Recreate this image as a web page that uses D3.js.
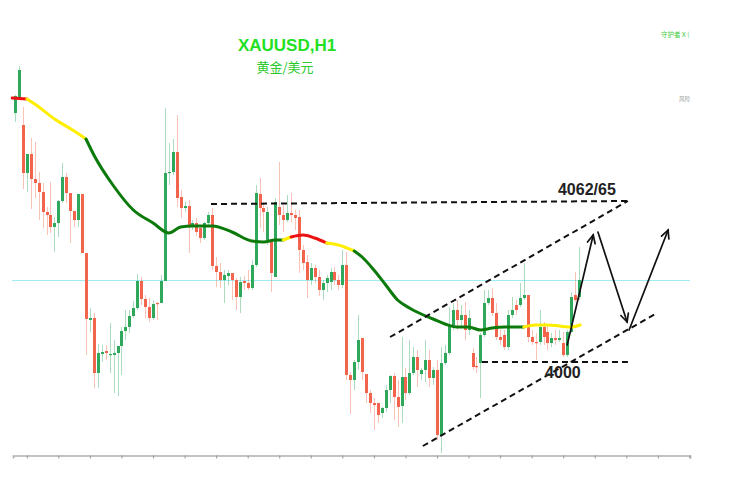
<!DOCTYPE html>
<html>
<head>
<meta charset="utf-8">
<script src="https://cdn.jsdelivr.net/npm/d3@7"></script>
<style>
  body { margin: 0; background: #fff; }
  svg { display: block; }
</style>
</head>
<body>
<svg id="chart"></svg>
<script>
// XAUUSD H1 candles, [open, high, low, close]
const candles = [
  [4099.2,4106.4,4095.6,4106.0],[4105.6,4118.0,4105.6,4116.4],[4094.4,4101.6,4068.8,4075.2],[4075.2,4082.8,4067.6,4082.8],
  [4082.8,4089.2,4060.8,4072.8],[4072.8,4087.6,4065.2,4071.2],[4071.2,4075.6,4056.4,4067.6],[4067.6,4071.2,4053.2,4059.6],
  [4059.6,4061.6,4050.4,4058.4],[4058.4,4071.6,4051.2,4053.6],[4053.6,4057.6,4043.6,4055.2],[4055.2,4064.4,4049.6,4064.0],
  [4064.0,4079.2,4063.2,4073.6],[4073.6,4075.2,4063.2,4067.2],[4067.2,4067.2,4047.2,4060.0],[4060.0,4060.0,4053.6,4056.4],
  [4056.4,4066.8,4053.6,4066.8],[4066.8,4066.8,4043.2,4043.2],[4043.2,4043.2,4002.4,4016.8],[4016.4,4021.2,4011.6,4017.2],
  [4017.2,4019.2,3989.2,3995.2],[3995.2,4006.8,3989.2,4003.2],[4002.8,4006.4,3999.6,4003.6],[4004.0,4006.4,4000.4,4003.2],
  [4002.4,4015.2,3995.2,4002.8],[4002.4,4008.4,3987.2,4003.2],[4003.2,4006.0,3986.0,4006.0],[4006.0,4013.6,3994.4,4012.0],
  [4012.0,4020.4,4008.4,4013.6],[4013.6,4020.4,4011.2,4018.0],[4018.0,4024.0,4017.2,4021.2],[4021.2,4034.8,4020.4,4032.0],
  [4032.0,4033.6,4022.4,4024.8],[4024.8,4026.4,4017.2,4021.6],[4021.6,4025.2,4015.6,4017.2],[4017.2,4024.4,4016.4,4022.8],
  [4023.2,4023.6,4016.4,4022.8],[4023.2,4034.4,4023.2,4032.0],[4032.0,4101.2,4032.0,4075.2],[4075.2,4087.2,4070.4,4075.6],
  [4075.6,4088.8,4074.4,4083.6],[4083.6,4098.4,4061.6,4065.2],[4065.6,4068.4,4057.2,4061.2],[4061.2,4063.6,4059.6,4062.0],
  [4062.0,4064.4,4043.2,4054.4],[4053.6,4056.4,4052.4,4055.2],[4055.2,4057.2,4050.0,4051.6],[4053.2,4053.6,4047.2,4049.2],
  [4049.2,4055.6,4048.4,4055.2],[4055.2,4059.6,4054.4,4058.4],[4058.4,4061.2,4036.4,4038.0],[4038.0,4041.6,4029.6,4035.6],
  [4035.6,4039.2,4029.2,4032.4],[4032.4,4036.4,4023.2,4034.4],[4034.0,4036.4,4030.4,4035.2],[4035.2,4035.2,4024.4,4032.4],
  [4032.4,4033.2,4020.4,4025.6],[4025.6,4033.6,4019.2,4031.6],[4032.0,4034.0,4028.4,4031.2],[4031.2,4036.4,4028.4,4029.2],
  [4029.2,4040.4,4028.4,4038.4],[4038.4,4070.4,4037.6,4067.2],[4066.8,4073.2,4053.2,4061.2],[4061.2,4063.6,4051.6,4059.6],
  [4048.4,4061.6,4046.4,4059.6],[4048.4,4048.4,4027.6,4035.2],[4033.6,4065.2,4033.6,4063.6],[4061.6,4079.6,4054.4,4058.4],
  [4058.4,4062.4,4051.6,4056.4],[4056.4,4066.4,4055.6,4059.2],[4059.2,4067.2,4055.6,4058.4],[4058.4,4060.4,4052.4,4057.2],
  [4057.6,4060.4,4035.2,4044.4],[4044.4,4046.4,4036.4,4039.2],[4039.6,4042.4,4025.2,4032.4],[4032.4,4039.2,4030.4,4037.2],
  [4037.2,4038.4,4031.2,4033.6],[4033.6,4036.4,4026.0,4028.4],[4028.4,4032.4,4024.4,4031.2],[4031.2,4034.4,4027.6,4033.2],
  [4031.6,4037.2,4028.4,4035.6],[4035.6,4037.6,4030.4,4032.4],[4032.4,4034.4,4028.4,4030.4],[4030.4,4044.4,4029.2,4038.4],
  [4038.4,4043.6,3992.4,3994.4],[3994.4,3995.6,3978.8,3992.4],[3992.4,4000.4,3988.4,3999.6],[3999.6,4018.4,3996.4,4008.4],
  [4009.2,4009.2,3992.4,3995.6],[3994.8,3994.8,3983.2,3987.2],[3987.2,3988.4,3979.2,3983.2],[3983.2,3985.2,3972.4,3982.4],
  [3983.2,3983.2,3975.2,3978.4],[3979.2,3981.6,3977.2,3981.2],[3981.2,3990.4,3979.6,3988.4],[3988.4,3994.4,3983.2,3994.0],
  [3994.0,3995.2,3976.4,3985.6],[3985.6,3992.4,3973.6,3981.6],[3982.0,4009.6,3975.2,3993.6],[3993.6,3997.2,3984.4,3987.2],
  [3987.2,4008.4,3986.4,3995.2],[3995.2,4005.6,3994.4,4001.6],[4001.6,4004.4,3989.6,3996.4],[3994.8,3997.2,3992.4,3996.4],
  [3996.4,4008.4,3991.6,4000.4],[4000.4,4004.4,3989.6,3993.2],[3993.2,3997.6,3990.4,3996.4],[3996.4,4000.4,3968.4,3970.4],
  [3970.4,4005.6,3963.2,3999.2],[3999.2,4006.4,3998.4,4003.2],[4003.2,4021.6,4002.4,4014.4],[4014.4,4023.2,4012.4,4020.4],
  [4020.4,4024.4,4012.4,4016.4],[4016.4,4022.4,4013.2,4018.4],[4018.4,4023.6,4008.4,4012.4],[4012.4,4020.4,4010.4,4017.2],
  [4003.2,4005.2,3996.4,3997.6],[3998.0,4001.6,3995.2,3997.6],[3999.2,4011.2,3985.2,4010.4],[4010.4,4028.4,4009.6,4023.2],
  [4023.2,4028.4,4022.4,4025.2],[4025.2,4029.2,4018.0,4019.2],[4019.2,4023.2,4008.4,4009.6],[4009.6,4012.4,4006.4,4008.4],
  [4010.4,4012.4,4004.4,4005.6],[4005.6,4020.4,4004.4,4018.4],[4018.4,4025.6,4017.2,4020.4],[4022.4,4024.4,4018.4,4020.4],
  [4022.4,4031.2,4021.6,4025.2],[4025.2,4039.2,4024.4,4026.4],[4026.4,4026.4,4007.6,4009.6],[4009.6,4012.4,4006.4,4007.6],
  [4007.6,4011.2,4000.4,4007.2],[4007.6,4020.4,4006.4,4013.6],[4013.6,4015.6,4006.4,4009.6],[4011.6,4014.4,4004.4,4007.2],
  [4007.2,4011.2,4005.6,4009.2],[4009.2,4012.4,4006.4,4008.4],[4008.4,4012.4,4007.6,4009.2],[4007.2,4011.6,4001.6,4002.4],
  [4002.4,4012.4,4001.6,4011.6],[4011.6,4027.6,4011.2,4025.6],[4026.4,4035.6,4023.6,4024.4],[4025.6,4045.6,4024.4,4032.4]
];

// moving average (candle index, value, colour of the segment that starts there)
const maIndex = [-0.7, 3, 5, 10, 15, 18, 20, 25, 30, 35, 39, 42, 45, 50, 55, 60, 63, 66, 68, 70, 73, 76, 79, 82, 86,
  88, 91, 94, 97, 100, 103, 106, 109, 112, 115, 118, 121, 124, 126, 129, 132, 135, 138, 141, 143.3];
const maValue = [4105.2, 4104.8, 4102.8, 4096.8, 4092.0, 4088.8, 4082.4, 4070.0, 4060.4, 4055.2, 4051.2, 4053.6, 4054.0,
  4054.0, 4051.6, 4048.0, 4047.6, 4048.4, 4048.4, 4049.6, 4050.4, 4049.2, 4047.2, 4046.4, 4044.0, 4041.6, 4036.4,
  4030.4, 4024.4, 4021.2, 4018.8, 4016.8, 4014.8, 4013.6, 4013.6, 4012.4, 4013.2, 4013.6, 4013.6, 4013.6, 4014.4,
  4014.4, 4014.0, 4013.6, 4014.4];
const maTrend = ['r', 'y', 'y', 'y', 'y', 'g', 'g', 'g', 'g', 'g', 'g', 'g', 'g', 'g', 'g', 'g', 'g', 'g', 'y', 'r', 'r',
  'r', 'y', 'y', 'g', 'g', 'g', 'g', 'g', 'g', 'g', 'g', 'g', 'g', 'g', 'g', 'g', 'g', 'g', 'y', 'y', 'y', 'y', 'y', 'y'];

const lastPrice = 4032.6;
const axisTicks = [3, 11, 19, 27, 35, 43, 51, 59, 67, 75, 83, 91, 99, 107, 115, 123, 131, 139, 147, 155, 163, 171];

// hand drawn analysis: [candle index, price]
const resistLine = [[49.7, 4062.8], [155.4, 4064.0]];
const supportLine = [[118.4, 3999.6], [155.4, 3999.6]];
const channelTop = [[95.1, 4009.6], [155.4, 4064.0]];
const channelBottom = [[103.4, 3966.0], [162.8, 4019.2]];
const arrows = [
  [[140.0, 4006.4], [146.6, 4050.4]],
  [[147.8, 4051.6], [155.2, 4015.6]],
  [[155.7, 4012.4], [165.6, 4052.4]]
];
const levelLabels = [
  { text: '4062/65', i: 145.0, p: 4066.4, anchor: 'middle' },
  { text: '4000', i: 134.4, p: 3993.2, anchor: 'start' }
];

const width = 729, height = 493;
const svg = d3.select('#chart').attr('width', width).attr('height', height);

const x = d3.scaleLinear().domain([0, candles.length - 1]).range([15, 579]);
const y = d3.scaleLinear().domain([3962.4, 4144.4]).range([455, 0]);

const upColor = '#2fa85c', downColor = '#f2644c';
const trendColor = { r: '#ee1111', y: '#ffee00', g: '#0b7a0b' };

// bottom axis, no labels
const xAxisScale = d3.scaleLinear().domain([x.invert(13), x.invert(690)]).range([13, 690]);
svg.append('g')
  .attr('transform', 'translate(0,455.5)')
  .call(d3.axisBottom(xAxisScale).tickValues(axisTicks).tickFormat('').tickSizeOuter(0).tickSize(3))
  .call(g => g.select('.domain').attr('stroke', '#b0b0b0').attr('stroke-width', 1.6))
  .call(g => g.selectAll('.tick line').attr('stroke', '#999'));

// current price line
svg.append('line')
  .attr('x1', 12).attr('x2', 690)
  .attr('y1', Math.round(y(lastPrice)) + 0.5).attr('y2', Math.round(y(lastPrice)) + 0.5)
  .attr('stroke', '#9fecf2').attr('stroke-width', 1);

// candles
const candle = svg.append('g').selectAll('g')
  .data(candles)
  .join('g');

candle.append('line')
  .attr('x1', (d, i) => Math.round(x(i)) + 0.5)
  .attr('x2', (d, i) => Math.round(x(i)) + 0.5)
  .attr('y1', d => y(d[1]))
  .attr('y2', d => y(d[2]))
  .attr('stroke', d => d[3] >= d[0] ? upColor : downColor)
  .attr('stroke-opacity', 0.4)
  .attr('stroke-width', 1);

candle.append('rect')
  .attr('x', (d, i) => Math.round(x(i)) - 1)
  .attr('width', 3)
  .attr('y', d => y(Math.max(d[0], d[3])))
  .attr('height', d => Math.max(1.2, Math.abs(y(d[0]) - y(d[3]))))
  .attr('fill', d => d[3] >= d[0] ? upColor : downColor);

// moving average, one path per colour run
const maLine = d3.line().x(d => x(d[0])).y(d => y(d[1])).curve(d3.curveMonotoneX);
let run = [[maIndex[0], maValue[0]]], runColor = maTrend[0];
const runs = [];
for (let k = 1; k < maIndex.length; k++) {
  run.push([maIndex[k], maValue[k]]);
  if (maTrend[k] !== runColor || k === maIndex.length - 1) {
    runs.push({ pts: run, c: runColor });
    run = [[maIndex[k], maValue[k]]];
    runColor = maTrend[k];
  }
}
svg.append('g').selectAll('path')
  .data(runs)
  .join('path')
  .attr('d', d => maLine(d.pts))
  .attr('fill', 'none')
  .attr('stroke', d => trendColor[d.c])
  .attr('stroke-width', 3)
  .attr('stroke-linecap', 'round');

// dashed analysis lines
const dashed = svg.append('g')
  .attr('stroke', '#111').attr('stroke-width', 2).attr('stroke-dasharray', '6,4').attr('fill', 'none');
[resistLine, supportLine, channelTop, channelBottom].forEach(seg => {
  dashed.append('line')
    .attr('x1', x(seg[0][0])).attr('y1', y(seg[0][1]))
    .attr('x2', x(seg[1][0])).attr('y2', y(seg[1][1]));
});

// arrows
const arrowG = svg.append('g').attr('stroke', '#111').attr('stroke-width', 1.7).attr('fill', 'none')
  .attr('stroke-linecap', 'round');
arrows.forEach(a => {
  const x1 = x(a[0][0]), y1 = y(a[0][1]), x2 = x(a[1][0]), y2 = y(a[1][1]);
  const ang = Math.atan2(y2 - y1, x2 - x1);
  const len = 9, spread = 0.45;
  arrowG.append('line').attr('x1', x1).attr('y1', y1).attr('x2', x2).attr('y2', y2);
  arrowG.append('path').attr('d',
    `M${x2 - len * Math.cos(ang - spread)},${y2 - len * Math.sin(ang - spread)}L${x2},${y2}` +
    `L${x2 - len * Math.cos(ang + spread)},${y2 - len * Math.sin(ang + spread)}`);
});

// level labels
svg.append('g').selectAll('text')
  .data(levelLabels)
  .join('text')
  .attr('x', d => x(d.i))
  .attr('y', d => y(d.p))
  .attr('text-anchor', d => d.anchor)
  .attr('font-family', '"Liberation Sans", Arial, sans-serif')
  .attr('font-weight', 'bold')
  .attr('font-size', 16)
  .attr('fill', '#222')
  .text(d => d.text);

// title
svg.append('text')
  .attr('x', 287).attr('y', 51)
  .attr('text-anchor', 'middle')
  .attr('font-family', '"Liberation Sans", Arial, sans-serif')
  .attr('font-weight', 'bold')
  .attr('font-size', 17)
  .attr('fill', '#22e022')
  .text('XAUUSD,H1');

svg.append('text')
  .attr('x', 285).attr('y', 72)
  .attr('text-anchor', 'middle')
  .attr('font-family', '"Noto Sans CJK SC", sans-serif')
  .attr('font-size', 13)
  .attr('fill', '#2bc92b')
  .text('黄金/美元');

// clipped corner texts
svg.append('text')
  .attr('x', 661).attr('y', 37)
  .attr('font-family', '"Noto Sans CJK SC", sans-serif')
  .attr('font-size', 6.5)
  .attr('fill', '#3ccc3c')
  .text('守护者 X (');

svg.append('text')
  .attr('x', 679).attr('y', 101)
  .attr('font-family', '"Noto Sans CJK SC", sans-serif')
  .attr('font-size', 5.5)
  .attr('fill', '#999')
  .text('风险');
</script>
</body>
</html>
